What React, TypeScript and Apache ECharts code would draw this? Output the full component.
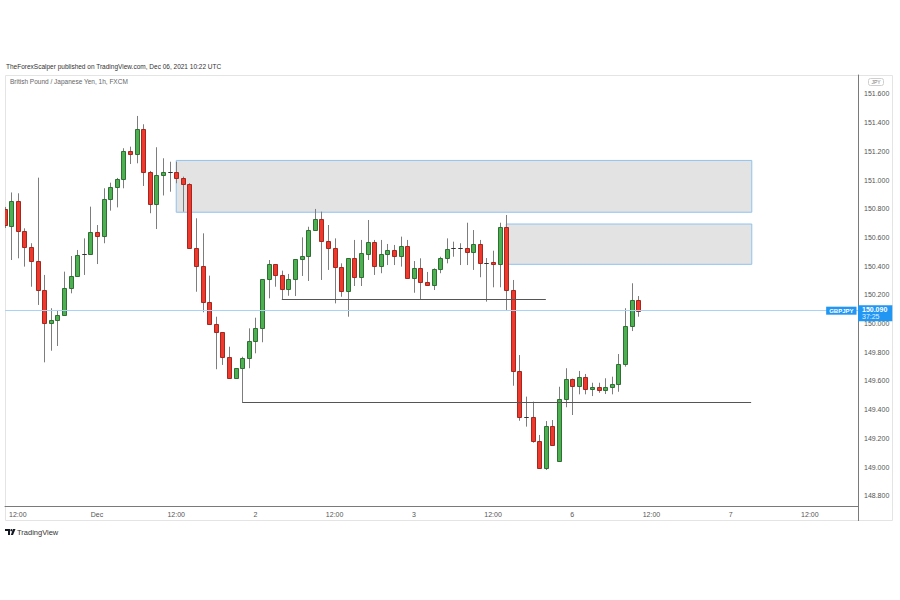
import React, { useEffect, useRef } from "react";
import * as echarts from "echarts";

// GBP/JPY 1h candles, Nov 30 10:00 -> Dec 6 10:00 (UTC), weekend removed
const open = [
  150.799, 150.682, 150.856, 150.647, 150.537, 150.438, 150.234, 150.002, 150.025, 150.06,
  150.246, 150.332, 150.485, 150.485, 150.636, 150.61, 150.866, 150.95, 151.008, 151.205,
  151.18, 151.354, 151.059, 150.831, 151.036, 151.054, 151.054, 151.013, 150.971, 150.525,
  150.403, 150.153, 149.995, 149.939, 149.769, 149.623, 149.689, 149.762, 149.879, 149.971,
  150.309, 150.413, 150.339, 150.239, 150.309, 150.448, 150.471, 150.652, 150.727, 150.578,
  150.525, 150.397, 150.227, 150.455, 150.323, 150.485, 150.567, 150.403, 150.485, 150.513,
  150.471, 150.543, 150.32, 150.385, 150.288, 150.269, 150.38, 150.455, 150.525, 150.525,
  150.529, 150.497, 150.555, 150.424, 150.427, 150.413, 150.671, 150.234, 149.67, 149.351,
  149.347, 149.184, 148.992, 149.289, 149.042, 149.472, 149.614, 149.565, 149.626, 149.544,
  149.56, 149.537, 149.56, 149.579, 149.716, 149.983, 150.164,
];
const close = [
  150.687, 150.856, 150.647, 150.536, 150.438, 150.234, 150.006, 150.027, 150.06, 150.246,
  150.332, 150.478, 150.485, 150.636, 150.61, 150.866, 150.95, 151.008, 151.205, 151.18,
  151.354, 151.059, 150.831, 151.036, 151.054, 151.054, 151.013, 150.971, 150.525, 150.403,
  150.153, 149.995, 149.939, 149.769, 149.623, 149.689, 149.762, 149.879, 149.971, 150.309,
  150.413, 150.339, 150.239, 150.309, 150.448, 150.471, 150.652, 150.727, 150.578, 150.525,
  150.397, 150.227, 150.455, 150.323, 150.49, 150.567, 150.403, 150.485, 150.513, 150.471,
  150.543, 150.32, 150.385, 150.288, 150.269, 150.38, 150.455, 150.52, 150.525, 150.525,
  150.497, 150.555, 150.424, 150.424, 150.413, 150.671, 150.234, 149.67, 149.351, 149.351,
  149.184, 148.992, 149.289, 149.154, 149.472, 149.614, 149.565, 149.626, 149.544, 149.56,
  149.537, 149.56, 149.579, 149.716, 149.983, 150.164, 150.09,
];
const low = [
  150.666, 150.443, 150.455, 150.397, 150.257, 150.13, 149.73, 149.811, 149.844, 150.055,
  150.211, 150.328, 150.339, 150.48, 150.415, 150.56, 150.787, 150.81, 150.943, 151.112,
  151.117, 150.959, 150.769, 150.659, 150.893, 150.919, 150.978, 150.78, 150.52, 150.222,
  150.079, 149.99, 149.682, 149.712, 149.62, 149.62, 149.45, 149.689, 149.793, 149.87,
  150.176, 150.257, 150.171, 150.194, 150.192, 150.332, 150.297, 150.649, 150.304, 150.374,
  150.141, 150.187, 150.048, 150.262, 150.262, 150.443, 150.339, 150.351, 150.408, 150.408,
  150.397, 150.318, 150.215, 150.171, 150.266, 150.234, 150.351, 150.42, 150.466, 150.408,
  150.408, 150.374, 150.323, 150.153, 150.253, 150.253, 150.088, 149.567, 149.323, 149.282,
  149.17, 148.99, 148.98, 149.15, 149.04, 149.417, 149.363, 149.507, 149.507, 149.495,
  149.518, 149.509, 149.507, 149.525, 149.7, 149.948, 150.048,
];
const high = [
  150.813, 150.914, 150.908, 150.664, 150.56, 151.017, 150.339, 150.107, 150.095, 150.362,
  150.471, 150.513, 150.594, 150.815, 150.687, 150.943, 150.982, 151.015, 151.222, 151.233,
  151.447, 151.389, 151.064, 151.229, 151.152, 151.128, 151.128, 151.024, 150.978, 150.734,
  150.629, 150.334, 150.048, 149.94, 149.839, 149.69, 149.769, 149.967, 150.041, 150.31,
  150.443, 150.415, 150.369, 150.346, 150.45, 150.601, 150.675, 150.799, 150.78, 150.687,
  150.594, 150.42, 150.455, 150.583, 150.583, 150.722, 150.583, 150.583, 150.555, 150.548,
  150.606, 150.583, 150.436, 150.455, 150.36, 150.385, 150.466, 150.594, 150.571, 150.56,
  150.703, 150.652, 150.583, 150.457, 150.508, 150.703, 150.757, 150.304, 149.781, 149.491,
  149.456, 149.224, 149.321, 149.328, 149.56, 149.689, 149.617, 149.67, 149.649, 149.588,
  149.588, 149.619, 149.63, 149.788, 150.107, 150.281, 150.192,
];

// time axis (hour slots) ticks
const tickPositions = [2, 14, 26, 38, 50, 62, 74, 86, 98, 110, 122];
const tickLabels = ["12:00", "Dec", "12:00", "2", "12:00", "3", "12:00", "6", "12:00", "7", "12:00"];

// price axis ticks
const priceTicks = [
  148.8, 149.0, 149.2, 149.4, 149.6, 149.8, 150.0, 150.2, 150.4, 150.6, 150.8, 151.0, 151.2, 151.4, 151.6,
];

const lastPrice = 150.09;
const countdown = "37:25";
const symbol = "GBPJPY";

// drawn zones: [fromSlot, toSlot, top, bottom]
const zoneFrom = [26, 76];
const zoneTo = [113.2, 113.2];
const zoneTop = [151.137, 150.694];
const zoneBottom = [150.776, 150.413];

// drawn horizontal levels
const levelFrom = [42, 36];
const levelTo = [82, 113.1];
const levelPrice = [150.171, 149.45];

const header = "TheForexScalper published on TradingView.com, Dec 06, 2021 10:22 UTC";
const subtitle = "British Pound / Japanese Yen, 1h, FXCM";

const FONT = "'Liberation Sans', Arial, sans-serif";

export default function App() {
  const ref = useRef<HTMLDivElement>(null);

  useEffect(() => {
    if (!ref.current) return;
    const chart = echarts.init(ref.current, undefined, { renderer: "svg" });

    const candles = open.map((o, i) => [i, o, close[i], low[i], high[i]]);

    const option: any = {
      animation: false,
      backgroundColor: "#ffffff",
      textStyle: { fontFamily: FONT },
      grid: {
        left: 5,
        top: 75,
        width: 853,
        height: 431,
        containLabel: false,
        outerBoundsMode: "none",
      },
      xAxis: {
        type: "value",
        min: 0.06,
        max: 129.29,
        axisLine: { show: true, lineStyle: { color: "#7a7a7a", width: 1 } },
        axisTick: { show: false },
        splitLine: { show: false },
        axisLabel: {
          customValues: tickPositions,
          formatter: (v: number) => {
            const k = tickPositions.indexOf(Math.round(v));
            return k >= 0 ? tickLabels[k] : "";
          },
          color: "#555",
          fontSize: 7,
          margin: 5,
          fontFamily: FONT,
        },
      },
      yAxis: {
        type: "value",
        position: "right",
        min: 148.7289,
        max: 151.7324,
        axisLine: { show: true, lineStyle: { color: "#7a7a7a", width: 1 } },
        axisTick: { show: false },
        splitLine: { show: false },
        axisLabel: {
          customValues: priceTicks,
          formatter: (v: number) => v.toFixed(3),
          color: "#555",
          fontSize: 7,
          margin: 6,
          fontFamily: FONT,
        },
      },
      series: [
        {
          type: "line",
          data: [],
          z: 1,
          silent: true,
          markArea: {
            silent: true,
            itemStyle: { color: "#e3e3e3", borderColor: "#8ec3f0", borderWidth: 1 },
            label: { show: false },
            data: zoneFrom.map((f, k) => [
              { coord: [f, zoneTop[k]] },
              { coord: [zoneTo[k], zoneBottom[k]] },
            ]),
          },
        },
        {
          type: "custom",
          z: 2,
          clip: true,
          dimensions: ["i", "open", "close", "low", "high"],
          encode: { x: 0, y: [1, 2, 3, 4] },
          data: candles,
          renderItem: (params: any, api: any) => {
            const i = api.value(0);
            const o = api.value(1);
            const c = api.value(2);
            const l = api.value(3);
            const h = api.value(4);
            const pO = api.coord([i, o]);
            const pC = api.coord([i, c]);
            const pL = api.coord([i, l]);
            const pH = api.coord([i, h]);
            const cx = Math.round(pO[0]);
            const doji = o === c;
            const up = c > o;
            const fill = doji ? "#333333" : up ? "#4caf50" : "#f0392c";
            const stroke = doji ? "#333333" : up ? "#2f6f33" : "#a0281f";
            const yTop = Math.round(Math.min(pO[1], pC[1])) + 0.5;
            const yBot = Math.round(Math.max(pO[1], pC[1])) + 0.5;
            return {
              type: "group",
              children: [
                {
                  type: "line",
                  shape: { x1: cx + 0.5, y1: pH[1], x2: cx + 0.5, y2: pL[1] },
                  style: { stroke: "#7d7d7d", lineWidth: 1 },
                },
                {
                  type: "rect",
                  shape: { x: cx - 1.5, y: yTop, width: 4, height: yBot - yTop },
                  style: { fill, stroke, lineWidth: 1 },
                },
              ],
            };
          },
        },
        {
          type: "line",
          data: [],
          z: 3,
          silent: true,
          markLine: {
            silent: true,
            symbol: "none",
            animation: false,
            data: [
              ...levelFrom.map((f, k) => [
                {
                  coord: [f, levelPrice[k]],
                  lineStyle: { color: "#555555", width: 1, type: "solid" },
                  label: { show: false },
                },
                { coord: [levelTo[k], levelPrice[k]] },
              ]),
              {
                yAxis: lastPrice,
                lineStyle: { color: "#a9d3f6", width: 1, type: "solid" },
                label: {
                  show: true,
                  position: "end",
                  distance: 0,
                  offset: [0, 2.5],
                  formatter: `{p|${lastPrice.toFixed(3)}}\n{t|${countdown}}`,
                  backgroundColor: "#2196f3",
                  padding: [1, 5, 1, 4],
                  rich: {
                    p: { color: "#fff", fontSize: 7, fontWeight: "bold", lineHeight: 7, fontFamily: FONT },
                    t: { color: "#e3f1ff", fontSize: 7, lineHeight: 7, fontFamily: FONT },
                  },
                },
              },
              {
                yAxis: lastPrice,
                lineStyle: { color: "rgba(0,0,0,0)", width: 1, type: "solid" },
                label: {
                  show: true,
                  position: "insideEnd",
                  distance: 1.5,
                  formatter: symbol,
                  backgroundColor: "#2196f3",
                  color: "#fff",
                  fontSize: 6,
                  fontWeight: "bold",
                  padding: [1, 3, 1, 3],
                  fontFamily: FONT,
                },
              },
            ],
          },
        },
      ],
      graphic: [
        {
          type: "text",
          left: 6,
          top: 63,
          style: { text: header, fontSize: 6.5, fill: "#333", fontFamily: FONT },
        },
        {
          type: "text",
          left: 10,
          top: 78,
          style: { text: subtitle, fontSize: 6.5, fill: "#666", fontFamily: FONT },
        },
        // chart frame
        {
          type: "rect",
          shape: { x: 5.5, y: 75.5, width: 887, height: 445 },
          style: { fill: "none", stroke: "#e4e4e4", lineWidth: 1 },
          z: 0,
        },
        {
          type: "line",
          shape: { x1: 858.5, y1: 506, x2: 858.5, y2: 521 },
          style: { stroke: "#7a7a7a", lineWidth: 1 },
        },
        // currency box
        {
          type: "rect",
          shape: { x: 868.5, y: 78.5, width: 15, height: 7, r: 2 },
          style: { fill: "#fff", stroke: "#cfcfcf", lineWidth: 1 },
        },
        {
          type: "text",
          x: 876,
          y: 82,
          style: {
            text: "JPY",
            fontSize: 5,
            fill: "#777",
            align: "center",
            verticalAlign: "middle",
            fontFamily: FONT,
          },
        },
        // TradingView logo
        {
          type: "polygon",
          shape: {
            points: [
              [5, 529],
              [10, 529],
              [10, 535],
              [8, 535],
              [8, 531],
              [5, 531],
            ],
          },
          style: { fill: "#131722" },
        },
        { type: "circle", shape: { cx: 11.4, cy: 530.2, r: 1.1 }, style: { fill: "#131722" } },
        {
          type: "polygon",
          shape: {
            points: [
              [13, 529],
              [15.5, 529],
              [13, 535],
              [10.8, 535],
            ],
          },
          style: { fill: "#131722" },
        },
        {
          type: "text",
          x: 17,
          y: 532,
          style: {
            text: "TradingView",
            fontSize: 7.5,
            fill: "#333",
            verticalAlign: "middle",
            fontFamily: FONT,
          },
        },
      ],
    };

    chart.setOption(option);
    return () => {
      chart.dispose();
    };
  }, []);

  return (
    <div
      ref={ref}
      style={{ position: "absolute", left: 0, top: 0, width: 900, height: 600, background: "#fff" }}
    />
  );
}
